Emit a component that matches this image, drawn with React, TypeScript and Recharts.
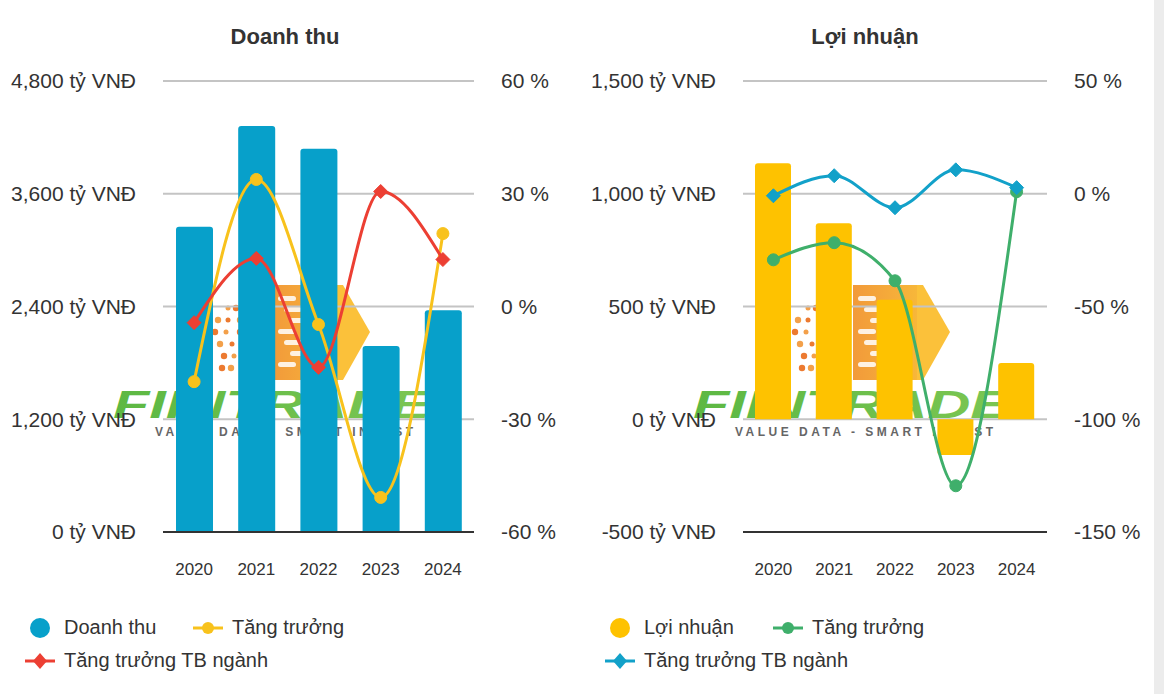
import React from 'react';
import { ComposedChart, Bar, Line, XAxis, YAxis, CartesianGrid } from 'recharts';

const years = ['2020', '2021', '2022', '2023', '2024'];
const revenue = [3250, 4320, 4080, 1980, 2360];
const revenueGrowth = [-20, 33.8, -4.8, -50.8, 19.4];
const revenueIndustry = [-4.3, 12.8, -16.2, 30.6, 12.5];
const profit = [1135, 869, 530, -158, 250];
const profitGrowth = [-29.3, -21.7, -38.6, -129.5, 0.9];
const profitIndustry = [-0.9, 8, -6.2, 10.6, 2.7];

const revenueTicks = [0, 1200, 2400, 3600, 4800];
const revenuePctTicks = [-60, -30, 0, 30, 60];
const profitTicks = [-500, 0, 500, 1000, 1500];
const profitPctTicks = [-150, -100, -50, 0, 50];

const FONT = '"Liberation Sans", Arial, sans-serif';
const TEXT = '#333333';

const fmtVnd = (v: number) => `${v.toLocaleString('en-US')} tỷ VNĐ`;
const fmtPct = (v: number) => `${v} %`;

const makeDiamond = (color: string) => (props: any) => {
  const { cx, cy, index } = props;
  if (cx == null || cy == null) return <g key={`d${index}`} />;
  return (
    <path
      key={`d${index}`}
      d={`M${cx},${cy - 7}L${cx + 7},${cy}L${cx},${cy + 7}L${cx - 7},${cy}Z`}
      fill={color}
      stroke={color}
    />
  );
};

type PanelProps = {
  title: string;
  left: number;
  data: any[];
  barColor: string;
  growthColor: string;
  industryColor: string;
  leftTicks: number[];
  rightTicks: number[];
  rightWidth: number;
  barSize: number;
  legend: [string, string, string];
};

const dotSpots = [
  [228, 38], [236, 38], [218, 50], [228, 50], [240, 50], [215, 62], [226, 62], [240, 62],
  [220, 74], [232, 74], [242, 74], [224, 86], [234, 86], [222, 98], [231, 98],
];

const Watermark = ({ id }: { id: string }) => (
  <svg width={580} height={200} style={{ position: 'absolute', left: 0, top: 270, zIndex: 0 }}>
    <defs>
      <linearGradient id={`og${id}`} x1="0" x2="1" y1="0" y2="0">
        <stop offset="0" stopColor="#f29a3a" />
        <stop offset="1" stopColor="#f7b73a" />
      </linearGradient>
      <linearGradient id={`gg${id}`} x1="0" x2="1" y1="0" y2="0">
        <stop offset="0" stopColor="#5cb843" />
        <stop offset="1" stopColor="#7cc653" />
      </linearGradient>
    </defs>
    <rect x={273} y={15} width={64} height={95} fill={`url(#og${id})`} />
    <path d="M337,15 L343,15 L370,62 L343,110 L337,110 Z" fill="#fbc13a" />
    {[0, 1, 2, 3, 4, 5, 6].map((i) => (
      <rect key={i} x={278 + (i % 3) * 6} y={26 + i * 11} width={18} height={5} rx={2.5} fill="#ffffff" opacity={0.85} />
    ))}
    {dotSpots.map(([x, y], i) => (
      <circle key={i} cx={x} cy={y} r={i % 3 === 0 ? 2.5 : 3.2} fill={i % 2 ? '#ec7a30' : '#f3a04a'} />
    ))}
    <text
      x={113}
      y={148}
      fontFamily={FONT}
      fontWeight={900}
      fontStyle="italic"
      fontSize={38}
      fill={`url(#gg${id})`}
      textLength={317}
      lengthAdjust="spacingAndGlyphs"
    >
      FIINTRADE
    </text>
    <text
      x={155}
      y={166}
      fontFamily={FONT}
      fontWeight={700}
      fontSize={12}
      fill="#666666"
      textLength={258}
      lengthAdjust="spacing"
    >
      VALUE DATA - SMART INVEST
    </text>
  </svg>
);

const LegendLine = ({ color, kind }: { color: string; kind: 'circle' | 'diamond' }) => (
  <svg width={30} height={20} style={{ display: 'block' }}>
    <line x1={0} y1={10} x2={30} y2={10} stroke={color} strokeWidth={3} />
    {kind === 'circle' ? (
      <circle cx={15} cy={10} r={6} fill={color} />
    ) : (
      <path d="M15,2 L22,10 L15,18 L8,10 Z" fill={color} />
    )}
  </svg>
);

const Panel = (p: PanelProps) => {
  const lo = p.leftTicks[0];
  const hi = p.leftTicks[p.leftTicks.length - 1];
  const rlo = p.rightTicks[0];
  const rhi = p.rightTicks[p.rightTicks.length - 1];
  const itemStyle: React.CSSProperties = {
    position: 'absolute',
    display: 'flex',
    alignItems: 'center',
    fontFamily: FONT,
    fontSize: 20,
    color: TEXT,
    whiteSpace: 'nowrap',
  };
  return (
    <div style={{ position: 'absolute', left: p.left, top: 0, width: 580, height: 694 }}>
      <div
        style={{
          position: 'absolute',
          left: 0,
          width: 570,
          top: 24,
          textAlign: 'center',
          fontFamily: FONT,
          fontWeight: 700,
          fontSize: 22,
          color: TEXT,
        }}
      >
        {p.title}
      </div>
      <Watermark id={p.title.length + '_' + p.left} />
      <div style={{ position: 'absolute', left: 0, top: 0, zIndex: 1 }}>
        <ComposedChart
          width={580}
          height={600}
          data={p.data}
          margin={{ top: 81, right: 0, bottom: 28, left: 0 }}
        >
          <CartesianGrid horizontal vertical={false} stroke="#c4c4c4" strokeWidth={2} yAxisId="left" />
          <XAxis
            dataKey="year"
            axisLine={{ stroke: '#333333', strokeWidth: 2 }}
            tickLine={false}
            tickSize={0}
            tickMargin={31}
            height={40}
            tick={{ fill: TEXT, fontSize: 17, fontFamily: FONT }}
          />
          <YAxis
            yAxisId="left"
            orientation="left"
            width={163}
            domain={[lo, hi]}
            ticks={p.leftTicks}
            tickFormatter={fmtVnd}
            axisLine={false}
            tickLine={false}
            tickSize={0}
            tickMargin={27}
            interval={0}
            tick={{ fill: TEXT, fontSize: 21, fontFamily: FONT }}
          />
          <YAxis
            yAxisId="right"
            orientation="right"
            width={p.rightWidth}
            domain={[rlo, rhi]}
            ticks={p.rightTicks}
            tickFormatter={fmtPct}
            axisLine={false}
            tickLine={false}
            tickSize={0}
            tickMargin={27}
            interval={0}
            tick={{ fill: TEXT, fontSize: 21, fontFamily: FONT }}
          />
          <Bar
            yAxisId="left"
            dataKey="value"
            fill={p.barColor}
            barSize={p.barSize}
            radius={[3, 3, 0, 0]}
            isAnimationActive={false}
          />
          <Line
            yAxisId="right"
            type="monotone"
            dataKey="growth"
            stroke={p.growthColor}
            strokeWidth={3}
            dot={{ r: 6, fill: p.growthColor, stroke: p.growthColor, strokeWidth: 1 }}
            activeDot={false}
            isAnimationActive={false}
          />
          <Line
            yAxisId="right"
            type="monotone"
            dataKey="industry"
            stroke={p.industryColor}
            strokeWidth={3}
            dot={makeDiamond(p.industryColor)}
            activeDot={false}
            isAnimationActive={false}
          />
        </ComposedChart>
      </div>
      <div style={{ ...itemStyle, left: 30, top: 616 }}>
        <span
          style={{ width: 20, height: 20, borderRadius: 10, background: p.barColor, display: 'inline-block', marginRight: 14 }}
        />
        {p.legend[0]}
      </div>
      <div style={{ ...itemStyle, left: 193, top: 616 }}>
        <span style={{ marginRight: 9 }}>
          <LegendLine color={p.growthColor} kind="circle" />
        </span>
        {p.legend[1]}
      </div>
      <div style={{ ...itemStyle, left: 25, top: 649 }}>
        <span style={{ marginRight: 9 }}>
          <LegendLine color={p.industryColor} kind="diamond" />
        </span>
        {p.legend[2]}
      </div>
    </div>
  );
};

const revenueData = years.map((y, i) => ({
  year: y,
  value: revenue[i],
  growth: revenueGrowth[i],
  industry: revenueIndustry[i],
}));

const profitData = years.map((y, i) => ({
  year: y,
  value: profit[i],
  growth: profitGrowth[i],
  industry: profitIndustry[i],
}));

export default function App() {
  return (
    <div style={{ position: 'relative', width: 1164, height: 694, background: '#ffffff', overflow: 'hidden' }}>
      <style>{`body{margin:0;background:#fff;}`}</style>
      <Panel
        title="Doanh thu"
        left={0}
        data={revenueData}
        barColor="#07a0ca"
        growthColor="#f8c21c"
        industryColor="#ec3f33"
        leftTicks={revenueTicks}
        rightTicks={revenuePctTicks}
        rightWidth={106}
        barSize={37}
        legend={['Doanh thu', 'Tăng trưởng', 'Tăng trưởng TB ngành']}
      />
      <Panel
        title="Lợi nhuận"
        left={580}
        data={profitData}
        barColor="#fec200"
        growthColor="#3faf6b"
        industryColor="#12a1c9"
        leftTicks={profitTicks}
        rightTicks={profitPctTicks}
        rightWidth={113}
        barSize={36}
        legend={['Lợi nhuận', 'Tăng trưởng', 'Tăng trưởng TB ngành']}
      />
      <div style={{ position: 'absolute', left: 1154, top: 0, width: 10, height: 694, background: '#ececec' }} />
    </div>
  );
}
